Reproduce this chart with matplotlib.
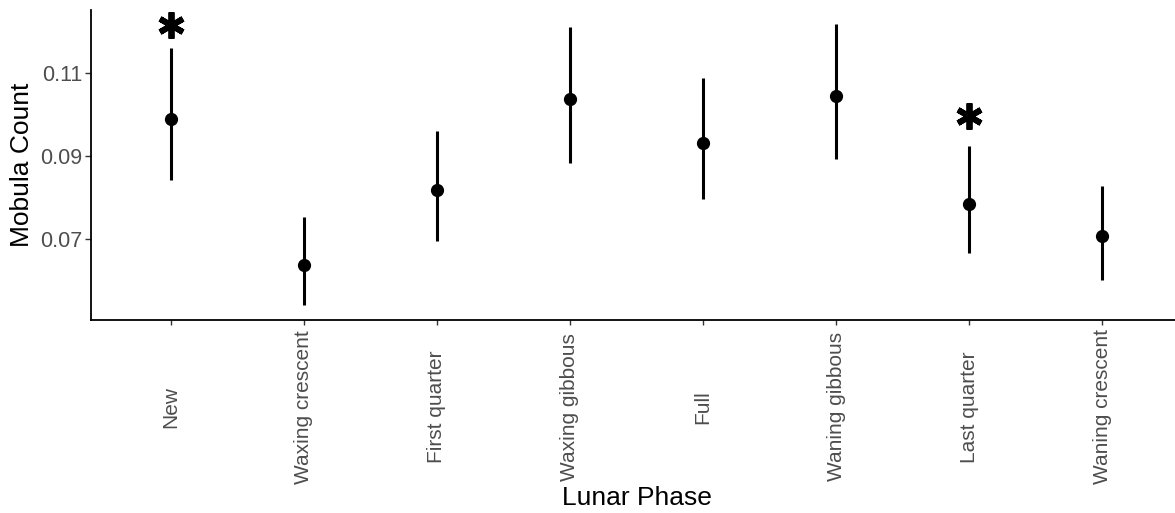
import matplotlib
matplotlib.use("Agg")
import matplotlib.pyplot as plt

plt.rcParams['font.family'] = ['Liberation Sans', 'DejaVu Sans']

# lunar phases, model estimate and 95% interval
fases = ['New', 'Waxing crescent', 'First quarter', 'Waxing gibbous',
         'Full', 'Waning gibbous', 'Last quarter', 'Waning crescent']
media = [0.0989, 0.0637, 0.0818, 0.1037, 0.0931, 0.1045, 0.0784, 0.0707]
inferior = [0.0842, 0.0541, 0.0695, 0.0885, 0.0796, 0.0894, 0.0666, 0.0601]
superior = [0.1161, 0.0753, 0.0960, 0.1211, 0.1088, 0.1218, 0.0924, 0.0829]

# significance marks (phase, height)
signif_fase = ['New', 'Last quarter']
signif_y = [0.1217, 0.0997]

fig = plt.figure(figsize=(11.75, 5.13), dpi=100)
ax = fig.add_axes([91/1175, 1 - 320/513, (1182 - 91)/1175, 310/513])

x = list(range(len(fases)))
ax.vlines(x, inferior, superior, color='black', lw=2.2)
ax.plot(x, media, 'o', color='black', markersize=8.5, linestyle='none')

for f, yv in zip(signif_fase, signif_y):
    ax.plot(fases.index(f), yv, marker=(6, 2, 0), color='black',
            markersize=19, markeredgewidth=4.2, linestyle='none')

ax.set_xlim(-0.6, len(fases) - 0.4)
ax.set_ylim(0.05055, 0.12525)
ax.set_yticks([0.07, 0.09, 0.11])
ax.set_yticklabels(['0.07', '0.09', '0.11'])
ax.set_xticks(x)
ax.set_xticklabels(fases, rotation=90, ha='center', va='center',
                   rotation_mode='anchor')

ax.tick_params(axis='x', length=3.5, width=1, color='#333333', pad=59,
               labelsize=15, labelcolor='#4D4D4D')
ax.tick_params(axis='y', length=4, width=1, color='#333333', pad=2,
               labelsize=15.5, labelcolor='#4D4D4D')

for lado in ['top', 'right']:
    ax.spines[lado].set_visible(False)
for lado in ['left', 'bottom']:
    ax.spines[lado].set_linewidth(1.3)
    ax.spines[lado].set_color('black')

ax.set_xlabel('Lunar Phase', fontsize=19)
ax.xaxis.set_label_coords(0.5, -0.535)
ax.set_ylabel('Mobula Count', fontsize=19)
ax.yaxis.set_label_coords(-0.052, 0.5)

fig.savefig('out.png', dpi=100)
